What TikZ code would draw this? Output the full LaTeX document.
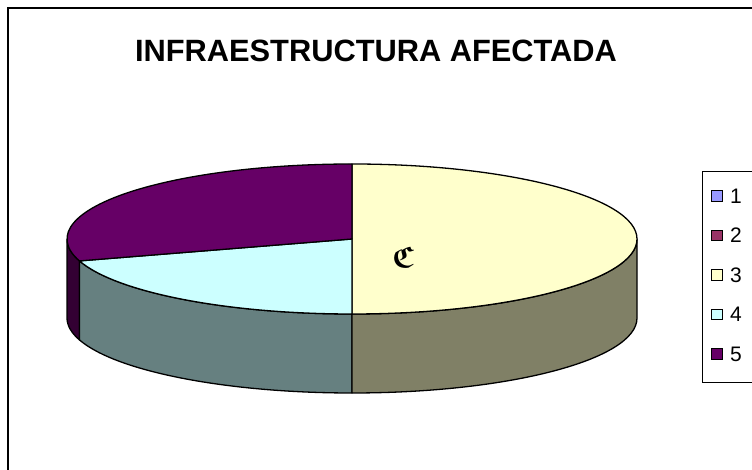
\documentclass[tikz,border=0pt]{standalone}
\usepackage{graphicx}
\usepackage{amsmath,amssymb}
\usepackage{fontspec}
\setmainfont{Liberation Sans}
\definecolor{cA}{HTML}{9999FF}
\definecolor{cB}{HTML}{993366}
\definecolor{cC}{HTML}{FFFFCC}
\definecolor{cD}{HTML}{CCFFFF}
\definecolor{cE}{HTML}{660066}
\definecolor{sC}{HTML}{808066}
\definecolor{sD}{HTML}{668080}
\definecolor{sE}{HTML}{330033}
\tikzset{
  slice/.style={draw=black, line width=1.3pt, line join=round},
  legsq/.style={draw=black, line width=0.9pt, minimum size=10.5pt, inner sep=0pt},
  legtxt/.style={anchor=west, inner sep=0pt, font=\fontsize{21}{23}\selectfont},
}
\begin{document}
\begin{tikzpicture}[x=1pt,y=1pt]
\useasboundingbox (0,0) rectangle (752,470);
\fill[white] (0,0) rectangle (752,470);
% chart frame
\draw[line width=2pt] (8,0) -- (8,462) -- (752,462);
% title
\node (title) at (376,419) {\fontsize{30.8}{33}\selectfont\bfseries INFRAESTRUCTURA AFECTADA};
% pie
\coordinate (c) at (352,231);
\def\prx{285}\def\pry{75}\def\pdepth{79}\def\pta{197}
% sides
\draw[slice, fill=sE] (c) ++(180:\prx pt and \pry pt) arc[start angle=180, end angle=\pta, x radius=\prx, y radius=\pry] -- ++(0,-\pdepth) arc[start angle=\pta, end angle=180, x radius=\prx, y radius=\pry] -- cycle;
\draw[slice, fill=sD] (c) ++(\pta:\prx pt and \pry pt) arc[start angle=\pta, end angle=270, x radius=\prx, y radius=\pry] -- ++(0,-\pdepth) arc[start angle=270, end angle=\pta, x radius=\prx, y radius=\pry] -- cycle;
\draw[slice, fill=sC] (c) ++(270:\prx pt and \pry pt) arc[start angle=270, end angle=360, x radius=\prx, y radius=\pry] -- ++(0,-\pdepth) arc[start angle=360, end angle=270, x radius=\prx, y radius=\pry] -- cycle;
% top
\draw[slice, fill=cC] (c) -- ++(90:\prx pt and \pry pt) arc[start angle=90, end angle=-90, x radius=\prx, y radius=\pry] -- cycle;
\draw[slice, fill=cD] (c) -- ++(270:\prx pt and \pry pt) arc[start angle=270, end angle=\pta, x radius=\prx, y radius=\pry] -- cycle;
\draw[slice, fill=cE] (c) -- ++(\pta:\prx pt and \pry pt) arc[start angle=\pta, end angle=90, x radius=\prx, y radius=\pry] -- cycle;
\node (lbl) at (403,213) {\scalebox{3}{$\boldsymbol{\mathfrak{C}}$}};
% legend
\draw[line width=1pt] (752,298) -- (702,298) -- (702,87) -- (752,87);
\node[legsq, fill=cA] (s1) at (717,274) {};
\node[legtxt] (t1) at (730,274) {1};
\node[legsq, fill=cB] (s2) at (717,234.5) {};
\node[legtxt] (t2) at (730,234.5) {2};
\node[legsq, fill=cC] (s3) at (717,195) {};
\node[legtxt] (t3) at (730,195) {3};
\node[legsq, fill=cD] (s4) at (717,155.5) {};
\node[legtxt] (t4) at (730,155.5) {4};
\node[legsq, fill=cE] (s5) at (717,116) {};
\node[legtxt] (t5) at (730,116) {5};
\end{tikzpicture}
\end{document}
